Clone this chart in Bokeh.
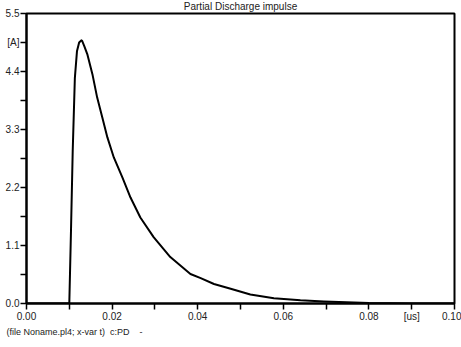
from bokeh.plotting import figure
from bokeh.models import FixedTicker, Title
from bokeh.embed import file_html
from bokeh.resources import INLINE

# Data (time in us, current in A)
t_us = [0.0, 0.0100, 0.0104, 0.0108, 0.0113, 0.0118, 0.0123, 0.0128, 0.0130,
        0.0135, 0.0142, 0.0154, 0.0165, 0.0177, 0.0189, 0.0204, 0.0224, 0.0243,
        0.0266, 0.0297, 0.0336, 0.0383, 0.0407, 0.0438, 0.0477, 0.0523, 0.0578,
        0.0640, 0.0695, 0.0800, 0.0900, 0.1000]
i_a = [0.0, 0.0, 1.40, 2.90, 4.28, 4.79, 4.95, 4.99, 4.98,
       4.88, 4.73, 4.35, 3.91, 3.53, 3.15, 2.77, 2.39, 2.01,
       1.63, 1.26, 0.88, 0.56, 0.48, 0.37, 0.28, 0.17, 0.10,
       0.06, 0.04, 0.01, 0.0, 0.0]

x_ticks = [0.0, 0.01, 0.02, 0.03, 0.04, 0.05, 0.06, 0.07, 0.08, 0.09, 0.1]
x_labels = ["0.00", "", "0.02", "", "0.04", "", "0.06", "", "0.08", "[us]", "0.10"]
y_ticks = [0.0, 0.55, 1.1, 1.65, 2.2, 2.75, 3.3, 3.85, 4.4, 4.95, 5.5]
y_labels = ["0.0", "", "1.1", "", "2.2", "", "3.3", "", "4.4", "[A]", "5.5"]

title_text = "Partial Discharge impulse"
footer_text = "(file Noname.pl4; x-var t)\u00a0\u00a0c:PD\u00a0\u00a0\u00a0\u00a0-"

FONT = "Liberation Sans"

p = figure(width=461, height=347, x_range=(0, 0.1), y_range=(0, 5.5),
           output_backend="svg", toolbar_location=None,
           min_border_left=26, min_border_right=7, min_border_top=13,
           min_border_bottom=44)
p.background_fill_color = "white"
p.border_fill_color = "white"
p.outline_line_color = "black"
p.outline_line_width = 2
p.grid.visible = False

p.title = Title(text=title_text, align="center", text_font=FONT,
                text_font_size="10px", text_font_style="normal",
                text_color="#222222", standoff=0, offset=0,
                vertical_align="top")

p.line(t_us, i_a, line_color="black", line_width=2, line_join="round")

for ax in (p.xaxis[0], p.yaxis[0]):
    ax.axis_line_width = 2
    ax.axis_line_color = "black"
    ax.major_tick_in = 0
    ax.major_tick_out = 6
    ax.major_tick_line_width = 1.5
    ax.minor_tick_in = 0
    ax.minor_tick_out = 0
    ax.major_label_text_font = FONT
    ax.major_label_text_font_size = "10px"
    ax.major_label_text_color = "#222222"

p.xaxis[0].ticker = FixedTicker(ticks=x_ticks)
p.xaxis[0].major_label_overrides = dict(zip(x_ticks, x_labels))
p.xaxis[0].major_label_standoff = 1
p.yaxis[0].ticker = FixedTicker(ticks=y_ticks)
p.yaxis[0].major_label_overrides = dict(zip(y_ticks, y_labels))
p.yaxis[0].major_label_standoff = 1

p.add_layout(Title(text=footer_text, align="left", offset=-20, standoff=1,
                   text_font=FONT, text_font_size="9px", text_font_style="normal",
                   text_color="#222222"), "below")

open("out.html", "w").write(file_html(p, INLINE))
